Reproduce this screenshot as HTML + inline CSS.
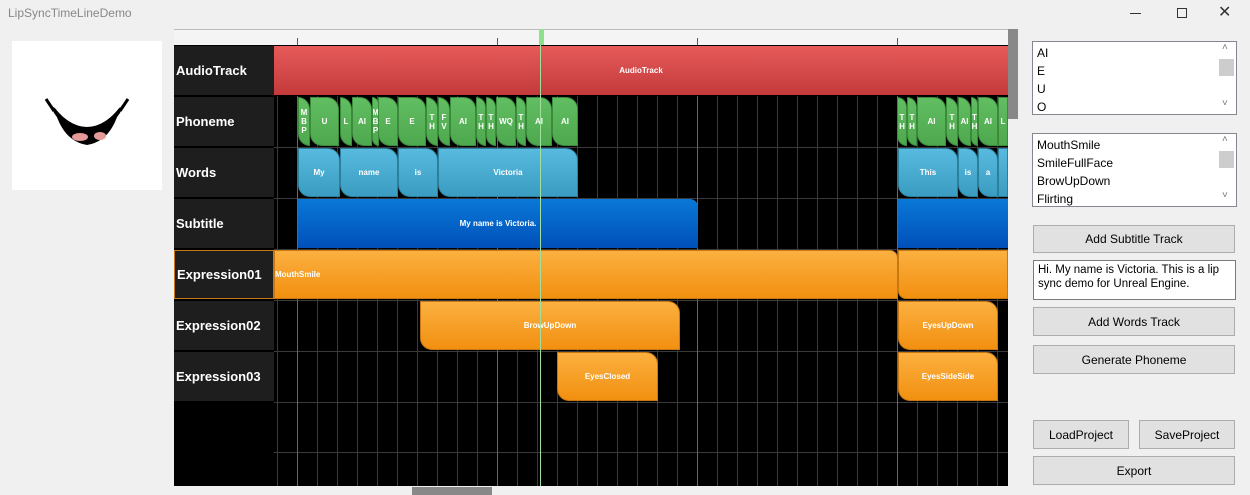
<!DOCTYPE html><html><head><style>
body{margin:0;width:1250px;height:495px;background:#f0f0f0;font-family:"Liberation Sans",sans-serif;position:relative;overflow:hidden}
.a{position:absolute;box-sizing:border-box}
.lab{position:absolute;left:174px;width:100px;background:#1e1e1e;color:#fff;font-weight:bold;font-size:13px;display:flex;align-items:center;padding-left:2px;box-sizing:border-box}
.b{position:absolute;box-sizing:border-box;color:#fff;font-weight:bold;font-size:8px;display:flex;align-items:center;justify-content:center;text-align:center;line-height:9px;border-radius:0 12px 0 12px;overflow:hidden}
.g{background:linear-gradient(#62be62,#4ea84e);border:1px solid #3c8a3c;top:97px;height:49px}
.w{background:linear-gradient(#58bade,#3a9cc0);border:1px solid #2d7f9e;top:148px;height:49px}
.s{background:linear-gradient(#0a78d8,#0050b8);top:199px;height:49px;border-radius:0 8px 0 0}
.o{background:linear-gradient(#fbb040,#f29010);border:1px solid #c87810}
.btn{position:absolute;background:#e1e1e1;border:1px solid #adadad;font-size:12px;display:flex;align-items:center;justify-content:center;box-sizing:border-box}
.lb{position:absolute;background:#fff;border:1px solid #828790;font-size:12px;box-sizing:border-box;padding:2px 0 0 4px;line-height:18px}
</style></head><body>
<div class="a" style="left:8px;top:6px;font-size:12px;color:#888">LipSyncTimeLineDemo</div>
<div class="a" style="left:1130px;top:13px;width:11px;height:1px;background:#333"></div>
<div class="a" style="left:1177px;top:8px;width:10px;height:10px;border:1px solid #333"></div>
<div class="a" style="left:1218px;top:2px;font-size:16px;color:#333">✕</div>
<div class="a" style="left:12px;top:41px;width:150px;height:149px;background:#fff">
<svg width="150" height="149"><path d="M38 62 Q75 110 112 62 L108 72 Q75 120 42 72Z" fill="#000"/><path d="M42 66 Q75 108 108 66 Q100 100 75 104 Q50 100 42 66Z" fill="#000"/><ellipse cx="68" cy="96" rx="8" ry="4" fill="#e79a9a"/><ellipse cx="88" cy="95" rx="6" ry="4" fill="#e79a9a"/><path d="M34 58 L42 70" stroke="#000" stroke-width="3"/><path d="M116 58 L108 70" stroke="#000" stroke-width="3"/></svg></div>
<div class="a" style="left:174px;top:29px;width:834px;height:457px;background:#000"></div>
<div class="a" style="left:174px;top:29px;width:834px;height:16px;background:#f4f4f4;border-top:1px solid #bbb"></div>
<div class="a" style="left:297px;top:38px;width:1px;height:7px;background:#d22"></div>
<div class="a" style="left:497px;top:38px;width:1px;height:7px;background:#d22"></div>
<div class="a" style="left:697px;top:38px;width:1px;height:7px;background:#d22"></div>
<div class="a" style="left:897px;top:38px;width:1px;height:7px;background:#d22"></div>
<svg class="a" style="left:274px;top:96px" width="734" height="390">
<g stroke="#3a3a3a" stroke-width="1">
<path d="M3.5 0V390M23.5 0V390M43.5 0V390M63.5 0V390M83.5 0V390M103.5 0V390M123.5 0V390M143.5 0V390M163.5 0V390M183.5 0V390M203.5 0V390M223.5 0V390M243.5 0V390M263.5 0V390M283.5 0V390M303.5 0V390M323.5 0V390M343.5 0V390M363.5 0V390M383.5 0V390M403.5 0V390M423.5 0V390M443.5 0V390M463.5 0V390M483.5 0V390M503.5 0V390M523.5 0V390M543.5 0V390M563.5 0V390M583.5 0V390M603.5 0V390M623.5 0V390M643.5 0V390M663.5 0V390M683.5 0V390M703.5 0V390M723.5 0V390"/>
<path d="M0 51.5H734M0 102.5H734M0 153.5H734M0 204.5H734M0 255.5H734M0 306.5H734M0 356.5H734"/></g>
<g stroke="#666"><path d="M23.5 0V390M223.5 0V390M423.5 0V390M623.5 0V390"/></g></svg>
<div class="lab" style="top:46px;height:49px">AudioTrack</div>
<div class="lab" style="top:97px;height:49px">Phoneme</div>
<div class="lab" style="top:148px;height:49px">Words</div>
<div class="lab" style="top:199px;height:49px">Subtitle</div>
<div class="lab" style="top:250px;height:49px;border:1px solid #c87810">Expression01</div>
<div class="lab" style="top:301px;height:49px">Expression02</div>
<div class="lab" style="top:352px;height:49px">Expression03</div>
<div class="b" style="left:274px;top:46px;width:734px;height:49px;background:linear-gradient(#e65a5a,#c43a3a);border-radius:0">AudioTrack</div>
<div class="b g" style="left:298px;width:12px">M<br>B<br>P</div>
<div class="b g" style="left:310px;width:29px">U</div>
<div class="b g" style="left:340px;width:12px">L</div>
<div class="b g" style="left:352px;width:20px">AI</div>
<div class="b g" style="left:372px;width:7px">M<br>B<br>P</div>
<div class="b g" style="left:378px;width:20px">E</div>
<div class="b g" style="left:398px;width:28px">E</div>
<div class="b g" style="left:426px;width:12px">T<br>H</div>
<div class="b g" style="left:438px;width:12px">F<br>V</div>
<div class="b g" style="left:450px;width:26px">AI</div>
<div class="b g" style="left:476px;width:10px">T<br>H</div>
<div class="b g" style="left:486px;width:10px">T<br>H</div>
<div class="b g" style="left:496px;width:20px">WQ</div>
<div class="b g" style="left:516px;width:10px">T<br>H</div>
<div class="b g" style="left:526px;width:26px">AI</div>
<div class="b g" style="left:552px;width:26px">AI</div>
<div class="b g" style="left:897px;width:10px">T<br>H</div>
<div class="b g" style="left:907px;width:10px">T<br>H</div>
<div class="b g" style="left:917px;width:29px">AI</div>
<div class="b g" style="left:946px;width:12px">T<br>H</div>
<div class="b g" style="left:958px;width:13px">AI</div>
<div class="b g" style="left:971px;width:7px">T<br>H</div>
<div class="b g" style="left:978px;width:20px">AI</div>
<div class="b g" style="left:998px;width:10px;border-radius:0">L</div>
<div class="b w" style="left:298px;width:42px">My</div>
<div class="b w" style="left:340px;width:58px">name</div>
<div class="b w" style="left:398px;width:40px">is</div>
<div class="b w" style="left:438px;width:140px">Victoria</div>
<div class="b w" style="left:898px;width:60px">This</div>
<div class="b w" style="left:958px;width:20px">is</div>
<div class="b w" style="left:978px;width:20px">a</div>
<div class="b w" style="left:998px;width:10px;border-radius:0"></div>
<div class="b s" style="left:298px;width:400px">My name is Victoria.</div>
<div class="b s" style="left:898px;width:110px;border-radius:0"></div>
<div class="b o" style="left:274px;top:250px;width:624px;height:49px;justify-content:flex-start;border-radius:0 8px 0 0">MouthSmile</div>
<div class="b o" style="left:898px;top:250px;width:110px;height:49px;border-radius:0 0 0 8px"></div>
<div class="b o" style="left:420px;top:301px;width:260px;height:49px">BrowUpDown</div>
<div class="b o" style="left:898px;top:301px;width:100px;height:49px">EyesUpDown</div>
<div class="b o" style="left:557px;top:352px;width:101px;height:49px">EyesClosed</div>
<div class="b o" style="left:898px;top:352px;width:100px;height:49px">EyesSideSide</div>
<div class="a" style="left:540px;top:45px;width:1px;height:441px;background:#9fe09f"></div>
<div class="a" style="left:539px;top:29px;width:5px;height:16px;background:#8de08d"></div>
<div class="a" style="left:1008px;top:29px;width:10px;height:457px;background:#f0f0f0"></div>
<div class="a" style="left:1008px;top:29px;width:10px;height:90px;background:#888"></div>
<div class="a" style="left:174px;top:486px;width:844px;height:9px;background:#f0f0f0"></div>
<div class="a" style="left:412px;top:487px;width:80px;height:8px;background:#888"></div>
<div class="lb" style="left:1032px;top:41px;width:205px;height:74px">AI<br>E<br>U<br>O</div>
<div class="a" style="left:1219px;top:59px;width:15px;height:17px;background:#cdcdcd"></div>
<div class="lb" style="left:1032px;top:133px;width:205px;height:74px">MouthSmile<br>SmileFullFace<br>BrowUpDown<br>Flirting</div>
<div class="a" style="left:1219px;top:151px;width:15px;height:17px;background:#cdcdcd"></div>
<div class="a" style="left:1222px;top:42px;font-size:10px;color:#777">˄</div>
<div class="a" style="left:1222px;top:98px;font-size:10px;color:#777">˅</div>
<div class="a" style="left:1222px;top:134px;font-size:10px;color:#777">˄</div>
<div class="a" style="left:1222px;top:190px;font-size:10px;color:#777">˅</div>
<div class="btn" style="left:1033px;top:225px;width:202px;height:28px">Add Subtitle Track</div>
<div class="lb" style="left:1033px;top:260px;width:203px;height:40px;border-color:#7a7a7a;line-height:14px;font-size:11.5px">Hi. My name is Victoria. This is a lip sync demo for Unreal Engine.</div>
<div class="btn" style="left:1033px;top:307px;width:202px;height:29px">Add Words Track</div>
<div class="btn" style="left:1033px;top:345px;width:202px;height:29px">Generate Phoneme</div>
<div class="btn" style="left:1033px;top:420px;width:96px;height:29px">LoadProject</div>
<div class="btn" style="left:1139px;top:420px;width:96px;height:29px">SaveProject</div>
<div class="btn" style="left:1033px;top:456px;width:202px;height:29px">Export</div>
</body></html>
